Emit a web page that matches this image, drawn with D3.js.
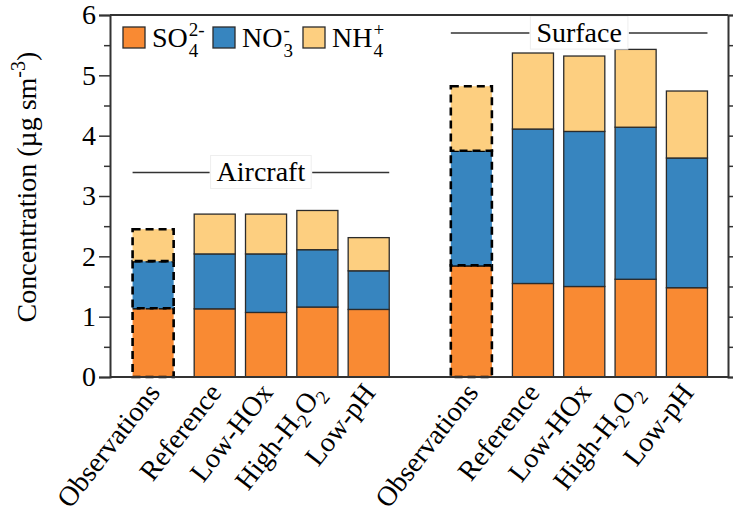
<!DOCTYPE html>
<html>
<head>
<meta charset="utf-8">
<script src="https://cdn.jsdelivr.net/npm/d3@7"></script>
<style>
  html, body { margin: 0; padding: 0; background: #fff; }
  svg { display: block; }
  text { font-family: "Liberation Serif", "Times New Roman", serif; fill: #000; }
</style>
</head>
<body>
<svg id="chart" width="733" height="512"></svg>
<script>
// Scenario names along the x axis (each group repeats the same five)
const scenarios = ["Observations", "Reference", "Low-HOx", "High-H2O2", "Low-pH"];
// Species stacked bottom to top
const species = ["SO4", "NO3", "NH4"];
const speciesColors = ["#f98a33", "#3785bf", "#fdcf80"];

// Bar positions on the x axis for each campaign group
const aircraftPos = [0, 1.2, 2.2, 3.2, 4.2];
const surfacePos = [6.2, 7.4, 8.4, 9.4, 10.4];

// Mean concentrations (µg sm^-3), one value per scenario
const aircraftSO4 = [1.14, 1.13, 1.07, 1.16, 1.12];
const aircraftNO3 = [0.78, 0.91, 0.97, 0.95, 0.64];
const aircraftNH4 = [0.53, 0.66, 0.66, 0.65, 0.55];

const surfaceSO4 = [1.85, 1.55, 1.50, 1.62, 1.48];
const surfaceNO3 = [1.90, 2.56, 2.57, 2.52, 2.15];
const surfaceNH4 = [1.07, 1.26, 1.25, 1.29, 1.11];

// Y axis ticks
const yMajorTicks = [0, 1, 2, 3, 4, 5, 6];
const yMinorTicks = [0.5, 1.5, 2.5, 3.5, 4.5, 5.5];

const groups = [
  { name: "Aircraft", pos: aircraftPos, values: [aircraftSO4, aircraftNO3, aircraftNH4], labelY: 3.39 },
  { name: "Surface", pos: surfacePos, values: [surfaceSO4, surfaceNO3, surfaceNH4], labelY: 5.70 }
];

const svg = d3.select("#chart");
const plot = { left: 110, right: 728, top: 15, bottom: 377 };
const FONT = 28;
const barWidth = 0.8;

const x = d3.scaleLinear().domain([-0.84, 11.2]).range([plot.left, plot.right]);
const y = d3.scaleLinear().domain([0, 6]).range([plot.bottom, plot.top]);

// Stacked bars
groups.forEach(g => {
  const rows = g.pos.map((p, i) => {
    const row = { pos: p, obs: i === 0 };
    species.forEach((s, k) => row[s] = g.values[k][i]);
    return row;
  });
  const stacked = d3.stack().keys(species)(rows);
  stacked.forEach((layer, k) => {
    svg.append("g").selectAll("rect").data(layer).join("rect")
      .attr("x", d => x(d.data.pos - barWidth / 2))
      .attr("width", d => x(barWidth) - x(0))
      .attr("y", d => y(d[1]))
      .attr("height", d => y(d[0]) - y(d[1]))
      .attr("fill", speciesColors[k])
      .attr("stroke", d => d.data.obs ? "#000" : "#2b2b2b")
      .attr("stroke-width", d => d.data.obs ? 2.6 : 1.3)
      .attr("stroke-dasharray", d => d.data.obs ? "8,5" : null);
  });

  // Group title with rule lines on either side
  const x0 = x(g.pos[0] - barWidth / 2);
  const x1 = x(g.pos[g.pos.length - 1] + barWidth / 2);
  const cx = (x0 + x1) / 2;
  const ly = y(g.labelY);
  const label = svg.append("text")
    .attr("x", cx).attr("y", ly + 9)
    .attr("text-anchor", "middle")
    .attr("font-size", FONT)
    .text(g.name);
  const w = label.node().getComputedTextLength();
  svg.insert("rect", () => label.node())
    .attr("x", cx - w / 2 - 6).attr("y", ly - 17)
    .attr("width", w + 12).attr("height", 33)
    .attr("fill", "#fff").attr("stroke", "#eeeeee").attr("stroke-width", 1);
  svg.append("line").attr("x1", x0).attr("x2", cx - w / 2 - 7)
    .attr("y1", ly).attr("y2", ly).attr("stroke", "#333").attr("stroke-width", 1.5);
  svg.append("line").attr("x1", cx + w / 2 + 7).attr("x2", x1)
    .attr("y1", ly).attr("y2", ly).attr("stroke", "#333").attr("stroke-width", 1.5);

  // Rotated scenario labels
  g.pos.forEach((p, i) => {
    const t = svg.append("text")
      .attr("text-anchor", "end")
      .attr("font-size", FONT)
      .attr("transform", `translate(${x(p) + 8},${plot.bottom + 16}) rotate(-52)`);
    const name = scenarios[i];
    if (name === "High-H2O2") {
      t.append("tspan").text("High-H");
      t.append("tspan").attr("font-size", FONT * 0.7).attr("dy", 7).text("2");
      t.append("tspan").attr("dy", -7).text("O");
      t.append("tspan").attr("font-size", FONT * 0.7).attr("dy", 7).text("2");
    } else {
      t.text(name);
    }
  });
});

// Frame
const frameColor = "#333";
svg.append("line").attr("x1", plot.left).attr("x2", plot.right)
  .attr("y1", plot.top).attr("y2", plot.top).attr("stroke", frameColor).attr("stroke-width", 2);
svg.append("line").attr("x1", plot.left).attr("x2", plot.right)
  .attr("y1", plot.bottom).attr("y2", plot.bottom).attr("stroke", frameColor).attr("stroke-width", 2);

// Left axis with major labels and minor ticks
const leftAxis = d3.axisLeft(y).tickValues(yMajorTicks).tickSize(11).tickPadding(3).tickFormat(d3.format("d"));
const gl = svg.append("g").attr("transform", `translate(${plot.left},0)`).call(leftAxis);
gl.select(".domain").attr("stroke", frameColor).attr("stroke-width", 2);
gl.selectAll(".tick line").attr("stroke", frameColor).attr("stroke-width", 1.5);
gl.selectAll(".tick text").attr("font-size", FONT).attr("fill", "#000");
const glm = svg.append("g").attr("transform", `translate(${plot.left},0)`)
  .call(d3.axisLeft(y).tickValues(yMinorTicks).tickSize(6).tickFormat(""));
glm.select(".domain").remove();
glm.selectAll(".tick line").attr("stroke", frameColor).attr("stroke-width", 1.5);

// Right axis mirrors the left ticks without labels
const gr = svg.append("g").attr("transform", `translate(${plot.right},0)`)
  .call(d3.axisRight(y).tickValues(yMajorTicks.concat(yMinorTicks)).tickSize(8).tickFormat(""));
gr.select(".domain").attr("stroke", frameColor).attr("stroke-width", 2);
gr.selectAll(".tick line").attr("stroke", frameColor).attr("stroke-width", 1.5);

// Y axis title
const yt = svg.append("text")
  .attr("transform", `translate(36,187) rotate(-90)`)
  .attr("text-anchor", "middle")
  .attr("font-size", 28);
yt.append("tspan").text("Concentration (µg sm");
yt.append("tspan").attr("font-size", 20).attr("dy", -11).text("-3");
yt.append("tspan").attr("dy", 11).text(")");

// Legend with chemical formulas (stacked sub/superscripts)
const legendItems = [
  { x: 123, base: "SO", sub: "4", sup: "2-" },
  { x: 213, base: "NO", sub: "3", sup: "-" },
  { x: 303, base: "NH", sub: "4", sup: "+" }
];
legendItems.forEach((item, k) => {
  svg.append("rect")
    .attr("x", item.x).attr("y", 27).attr("width", 22).attr("height", 21)
    .attr("fill", speciesColors[k]).attr("stroke", "#2b2b2b").attr("stroke-width", 1.3);
  const t = svg.append("text").attr("x", item.x + 29).attr("y", 47).attr("font-size", FONT).text(item.base);
  const w = t.node().getComputedTextLength();
  svg.append("text").attr("x", item.x + 29 + w + 1).attr("y", 36).attr("font-size", FONT * 0.68).text(item.sup);
  svg.append("text").attr("x", item.x + 29 + w + 1).attr("y", 57).attr("font-size", FONT * 0.68).text(item.sub);
});
</script>
</body>
</html>
